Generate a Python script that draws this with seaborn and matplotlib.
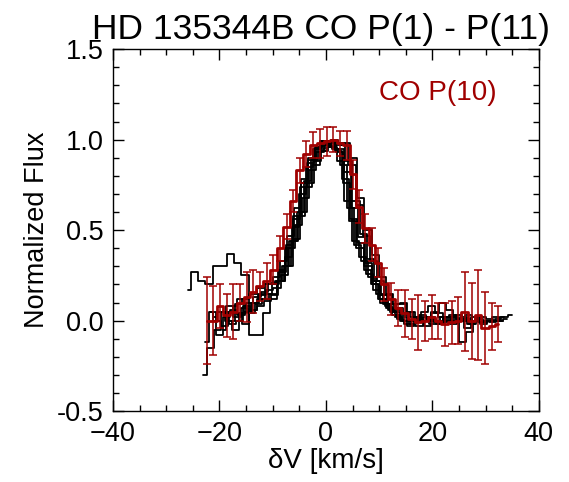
import numpy as np
import pandas as pd
import seaborn as sns
import matplotlib.pyplot as plt
from matplotlib.ticker import MultipleLocator

nan = np.nan

# velocity grid of the black profiles (km/s) and per-line offsets
v_grid = [-26.0, -24.65, -23.3, -21.95, -20.6, -19.25, -17.9, -16.55, -15.2,
          -13.85, -12.5, -11.15, -9.8, -8.45, -7.1, -5.75, -4.4, -3.05, -1.7,
          -0.35, 1.0, 2.35, 3.7, 5.05, 6.4, 7.75, 9.1, 10.45, 11.8, 13.15,
          14.5, 15.85, 17.2, 18.55, 19.9, 21.25, 22.6, 23.95, 25.3, 26.65,
          28.0, 29.35, 30.7, 32.05, 33.4]
line_shift = [0.0, 0.3, 0.6, 0.9, 1.2, 0.15, 1.5, 0.45]

line_flux = [
    [0.17, 0.27, 0.22, 0.20, 0.30, 0.30, 0.37, 0.32, 0.25, -0.08, -0.08, 0.04,
     0.12, 0.22, 0.35, 0.52, 0.70, 0.85, 0.95, 0.99, 0.98, 0.94, 0.78, 0.55,
     0.40, 0.28, 0.20, 0.12, 0.08, 0.03, 0.00, -0.03, 0.02, 0.05, 0.08, 0.04,
     0.00, -0.02, 0.01, -0.04, 0.00, 0.02, 0.01, 0.00, 0.02],
    [nan, nan, -0.30, -0.15, -0.05, 0.05, -0.02, 0.00, 0.08, 0.06, 0.12, 0.15,
     0.20, 0.27, 0.42, 0.58, 0.76, 0.89, 0.96, 0.99, 0.99, 0.95, 0.82, 0.62,
     0.46, 0.32, 0.22, 0.14, 0.09, 0.06, 0.03, 0.00, -0.03, 0.02, 0.00, -0.02,
     0.02, 0.00, -0.12, -0.06, 0.00, -0.02, 0.00, 0.01, nan],
    [nan, nan, -0.12, 0.05, -0.08, 0.02, 0.06, 0.03, 0.05, 0.10, 0.14, 0.17,
     0.18, 0.25, 0.40, 0.53, 0.68, 0.83, 0.93, 0.97, 1.00, 0.98, 0.88, 0.66,
     0.48, 0.34, 0.22, 0.14, 0.09, 0.07, 0.04, 0.02, 0.00, -0.03, 0.05, 0.10,
     0.06, 0.00, 0.02, -0.02, 0.01, 0.00, -0.01, 0.00, 0.01],
    [nan, nan, nan, 0.02, 0.05, 0.00, -0.05, 0.04, 0.10, 0.13, 0.16, 0.20,
     0.22, 0.30, 0.44, 0.60, 0.77, 0.89, 0.95, 0.97, 0.95, 0.86, 0.62, 0.42,
     0.33, 0.24, 0.15, 0.09, 0.05, 0.01, -0.02, 0.00, 0.03, 0.01, -0.01, 0.02,
     0.00, 0.03, 0.00, -0.02, 0.01, 0.00, nan, nan, nan],
    [nan, nan, nan, nan, -0.05, 0.08, 0.02, 0.07, 0.04, 0.09, 0.12, 0.15,
     0.22, 0.30, 0.44, 0.58, 0.74, 0.86, 0.94, 0.96, 0.98, 0.97, 0.86, 0.64,
     0.47, 0.33, 0.22, 0.14, 0.09, 0.09, 0.05, 0.02, 0.00, 0.02, -0.01, 0.00,
     0.03, 0.01, 0.00, 0.02, -0.01, 0.00, 0.02, 0.00, nan],
    [nan, nan, nan, 0.05, 0.00, -0.03, 0.05, 0.09, 0.12, 0.15, 0.18, 0.20,
     0.21, 0.28, 0.40, 0.56, 0.74, 0.87, 0.95, 0.99, 0.99, 0.93, 0.76, 0.56,
     0.43, 0.30, 0.20, 0.12, 0.07, 0.05, 0.02, 0.00, 0.02, 0.00, 0.01, -0.02,
     0.00, 0.02, 0.00, 0.03, 0.00, -0.01, 0.00, 0.00, nan],
    [nan, nan, nan, nan, nan, 0.00, 0.04, -0.02, 0.06, 0.08, 0.11, 0.14,
     0.22, 0.30, 0.45, 0.60, 0.76, 0.88, 0.94, 0.96, 0.97, 0.98, 0.90, 0.68,
     0.50, 0.36, 0.24, 0.15, 0.09, 0.10, 0.05, 0.02, 0.00, -0.02, 0.00, 0.02,
     0.00, 0.00, 0.01, 0.00, -0.01, 0.00, 0.00, 0.02, 0.03],
    [nan, nan, nan, nan, nan, nan, 0.08, 0.12, 0.05, 0.10, 0.15, 0.20,
     0.24, 0.33, 0.47, 0.62, 0.78, 0.90, 0.96, 0.98, 0.96, 0.88, 0.66, 0.44,
     0.35, 0.26, 0.17, 0.10, 0.06, 0.02, 0.00, -0.02, 0.01, 0.00, 0.04, 0.02,
     -0.01, 0.00, 0.01, 0.00, 0.00, nan, nan, nan, nan],
]

# CO P(10) profile with errors
p10_v = [-22.4, -21.2, -19.9, -18.6, -17.4, -16.1, -14.8, -13.7, -12.4, -11.1,
         -9.9, -8.6, -7.4, -6.2, -4.9, -3.7, -2.4, -1.1, 0.2, 1.4, 2.6, 3.9,
         5.1, 6.2, 7.4, 8.6, 9.8, 11.0, 12.3, 13.5, 14.8, 16.1, 17.3, 18.6,
         19.9, 21.0, 22.3, 23.6, 24.8, 26.1, 27.4, 28.5, 29.9, 31.2, 32.3]
p10_flux = [0.00, 0.00, 0.08, 0.03, 0.05, 0.10, 0.13, 0.16, 0.19, 0.22,
            0.28, 0.40, 0.52, 0.66, 0.83, 0.92, 0.97, 0.98, 0.99, 1.00, 0.98,
            0.97, 0.81, 0.63, 0.51, 0.42, 0.32, 0.20, 0.12, 0.07, 0.04, 0.01,
            -0.01, 0.00, 0.02, 0.00, -0.02, -0.01, 0.00, 0.05, 0.00, 0.03,
            -0.04, -0.03, -0.02]
p10_err = [0.24, 0.19, 0.12, 0.12, 0.15, 0.10, 0.14, 0.12, 0.08, 0.10,
           0.08, 0.07, 0.07, 0.06, 0.07, 0.07, 0.07, 0.08, 0.08, 0.07, 0.07,
           0.08, 0.08, 0.09, 0.08, 0.09, 0.08, 0.09, 0.09, 0.10, 0.13, 0.11,
           0.15, 0.11, 0.12, 0.10, 0.12, 0.12, 0.13, 0.22, 0.21, 0.25, 0.20,
           0.13, 0.10]

rows = []
for k, (shift, fl) in enumerate(zip(line_shift, line_flux)):
    for v, f in zip(v_grid, fl):
        rows.append({'line': k, 'v': v + shift, 'flux': f})
df = pd.DataFrame(rows).dropna()
p10 = pd.DataFrame({'v': p10_v, 'flux': p10_flux, 'err': p10_err})

sns.set_style('ticks')
plt.rcParams['font.family'] = ['Liberation Sans', 'DejaVu Sans']
plt.rcParams['xtick.direction'] = 'in'
plt.rcParams['ytick.direction'] = 'in'
for key in ['text.color', 'axes.labelcolor', 'xtick.color', 'ytick.color',
            'axes.edgecolor']:
    plt.rcParams[key] = 'black'

red = '#a00000'
fig = plt.figure(figsize=(5.69, 4.82), dpi=100)
ax = fig.add_axes([0.1986, 0.147, 0.7484, 0.751])

sns.lineplot(data=df, x='v', y='flux', units='line', estimator=None,
             color='black', lw=1.3, drawstyle='steps-mid', ax=ax,
             legend=False)
ax.errorbar(p10['v'], p10['flux'], yerr=p10['err'], fmt='none',
            ecolor=red, elinewidth=1.1, capsize=3, capthick=1.1)
sns.lineplot(data=p10, x='v', y='flux', color=red, lw=2.0,
             drawstyle='steps-mid', ax=ax, legend=False)

ax.set_xlim(-40, 40)
ax.set_ylim(-0.5, 1.5)
ax.xaxis.set_major_locator(MultipleLocator(20))
ax.xaxis.set_minor_locator(MultipleLocator(5))
ax.yaxis.set_major_locator(MultipleLocator(0.5))
ax.yaxis.set_minor_locator(MultipleLocator(0.1))
ax.yaxis.set_major_formatter(plt.FormatStrFormatter('%.1f'))
ax.tick_params(which='both', top=True, right=True, labelsize=19.5, width=1)
ax.tick_params(which='major', length=8, pad=7)
ax.tick_params(which='minor', length=4)
for s in ax.spines.values():
    s.set_linewidth(1)

ax.set_xlabel('δV [km/s]', fontsize=20, labelpad=1)
ax.set_ylabel('Normalized Flux', fontsize=19.5, labelpad=5)
ax.set_title('HD 135344B CO P(1) - P(11)', fontsize=25.5, pad=7, x=0.488)
ax.text(21, 1.26, 'CO P(10)', color=red, fontsize=20, ha='center', va='center')

fig.savefig('out.png', dpi=100)
